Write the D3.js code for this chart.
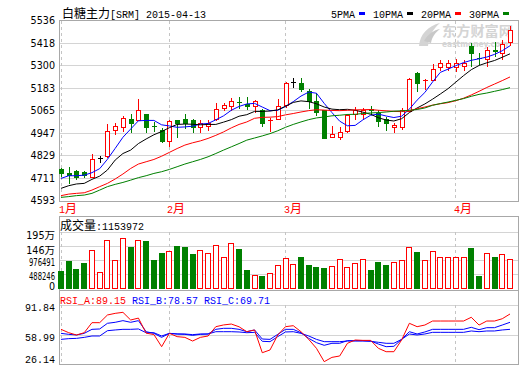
<!DOCTYPE html>
<html><head><meta charset="utf-8">
<script src="https://cdn.jsdelivr.net/npm/d3@7"></script>
<style>html,body{margin:0;padding:0;background:#fff;overflow:hidden}</style>
</head><body><svg id="c" width="520" height="365"></svg>
<script>
// ---------- data ----------
const title = "白糖主力[SRM] 2015-04-13";
const monthLabels = ["1月", "2月", "3月", "4月"];
const monthStartIndex = [0, 14, 29, 51];
const priceTicks = [4593, 4711, 4829, 4947, 5065, 5183, 5300, 5418, 5536];
const volTicks = [0, 488246, 976491, 1464737, 1952982];
const volTickLabels = ["0", "488246", "976491", "146万", "195万"];
const rsiTicks = [26.14, 58.99, 91.84];
const rsiTickLabels = ["26.14", "58.99", "91.84"];
const maNames = ["5PMA", "10PMA", "20PMA", "30PMA"];
const volumeTitle = "成交量:1153972";
const rsiNames = ["RSI_A:89.15", "RSI_B:78.57", "RSI_C:69.71"];

const opens = [4758,4741,4749,4742,4720,4819,4827,4966,4977,5019,
  5015,5050,4985,4963,4907,5015,5020,5015,4980,4984,
  5020,5081,5090,5112,5098,5088,5067,5015,5024,5093,
  5215,5210,5168,5114,5071,4925,4928,4958,5046,5045,
  5072,5055,5019,4977,4977,5064,5262,5225,5227,5293,
  5295,5293,5298,5405,5342,5337,5380,5368,5425];
const highs = [4764,4772,4754,4749,4836,4827,4993,5001,5036,5045,
  5124,5050,5006,4975,5015,5015,5050,5020,5015,5015,
  5105,5105,5133,5137,5137,5119,5076,5027,5128,5215,
  5237,5237,5180,5157,5071,4984,4980,5050,5084,5081,
  5088,5071,5032,5001,5081,5237,5267,5228,5310,5331,
  5329,5336,5331,5420,5366,5397,5423,5434,5508];
const lows = [4722,4685,4706,4716,4718,4798,4824,4942,4960,4954,
  5015,4954,4958,4902,4880,4925,4975,4954,4951,4963,
  5015,5067,5067,5081,5076,5058,4984,4960,5020,5085,
  5189,5168,5081,5041,4920,4925,4915,4954,5024,5029,
  5045,4984,4963,4954,4971,5064,5168,5180,5223,5276,
  5279,5272,5276,5300,5310,5296,5348,5336,5406];
const closes = [4738,4727,4720,4727,4810,4819,4958,4984,5029,5001,
  5071,4980,4983,4907,5010,5001,4998,4977,5001,5001,
  5076,5097,5114,5110,5090,5114,5001,5017,5091,5210,
  5215,5180,5114,5058,4920,4945,4951,5041,5071,5071,
  5070,5012,5003,4992,5071,5232,5211,5227,5284,5314,
  5314,5316,5314,5364,5340,5381,5376,5414,5487];
const volumes = [616700,959400,685300,890800,1336300,572200,1678900,983300,1737100,1439000,
  1678900,1644600,993600,1233500,1302000,1473300,1439000,1199200,1336300,1233500,
  1507600,1096400,1576100,1380800,651000,479700,455700,548200,822300,1062200,
  846300,1096400,822300,753800,719500,788000,1027900,753800,890800,1027900,
  651000,925100,822300,925100,993600,1439000,1267700,993600,1302000,1096400,
  1096400,1096400,1096400,1404800,455700,1233500,1096400,1199200,1027900];
const ma5 = [4711,4725,4725,4728,4741,4762,4811,4868,4926,4969,
  5012,5014,5014,4991,4985,4978,4980,4984,4995,4998,
  5017,5038,5067,5087,5100,5103,5084,5065,5067,5087,
  5112,5141,5162,5156,5103,5055,5010,4986,4988,5017,
  5041,5047,5037,5029,5036,5073,5120,5160,5215,5265,
  5282,5300,5316,5328,5336,5345,5359,5378,5404];
const ma10 = [4659,4673,4682,4685,4706,4723,4755,4807,4841,4859,
  4893,4917,4939,4956,4976,4993,4995,4994,4991,4993,
  4993,5005,5018,5036,5044,5061,5061,5063,5069,5088,
  5108,5116,5112,5101,5084,5073,5070,5072,5067,5057,
  5046,5028,5016,5011,5023,5055,5079,5100,5125,5152,
  5180,5214,5248,5279,5301,5315,5327,5344,5362];
const ma20 = [4621,4629,4633,4636,4650,4668,4685,4708,4734,4763,
  4786,4798,4810,4827,4847,4867,4885,4897,4907,4920,
  4936,4954,4975,4993,5006,5025,5030,5031,5034,5043,
  5050,5058,5065,5070,5068,5066,5065,5067,5069,5070,
  5071,5067,5064,5061,5060,5065,5075,5084,5094,5101,
  5107,5117,5130,5147,5166,5186,5204,5222,5241];
const ma30 = [4612,4616,4621,4624,4633,4650,4668,4680,4690,4702,
  4715,4725,4737,4746,4758,4772,4786,4798,4810,4824,
  4841,4859,4876,4893,4911,4922,4933,4945,4960,4978,
  4993,5006,5018,5027,5032,5038,5041,5045,5046,5050,
  5053,5055,5058,5062,5064,5067,5071,5079,5093,5102,
  5110,5119,5128,5140,5150,5157,5166,5175,5185];
const rsiA = [65.2,61.5,59,61.5,72.5,72.5,80.9,82.7,83.8,75.4,
  77.5,61,59.5,46.2,60.8,57.2,56.4,52.4,56.4,57.9,
  68.1,70,71,68,62.6,64.5,39.6,42.6,59,68.1,
  69.2,62.6,54.2,44.4,29.8,34.5,36,49.9,53.5,53.1,
  53.1,44.4,40.7,40.7,53.5,71.8,68.1,69.9,74.3,74.3,
  74.3,74.3,74.3,78.4,69.9,74.3,74.3,76.8,82];
const rsiB = [60.8,59.7,59,60.8,65.2,65.6,71.8,72.9,74.7,72.9,
  74.7,62.6,60.8,56.4,60.8,60.1,59.7,58.6,59.7,60.1,
  65.2,66.3,66.3,65.2,62.6,64.5,54.6,54.2,59.7,65.2,
  65.2,61.5,55.3,50.6,47.7,49.9,49.9,52.8,52.8,52.8,
  52.4,49.1,46.2,46.6,54.2,62.6,60.1,62.3,65.2,65.2,
  65.2,65.2,65.2,67.4,64.8,67,67,69.9,72.9];
const rsiC = [54.2,55,55.3,56.4,57.9,57.9,63.7,64.5,65.2,65.2,
  65.6,61.5,61.5,57.9,60.8,60.1,60.1,59.4,60.1,60.1,
  62.6,62.6,62.6,62.3,61.5,61.9,52.1,51.7,57.2,62.3,
  62.6,60.8,57.9,54.2,51.7,51.7,51.7,52.4,52.4,52.4,
  52.1,51,49.9,49.9,54.2,60.1,59,60.1,61.9,61.9,
  61.9,61.9,61.9,63.4,62.6,63.4,63.4,64.5,65.2];

// ---------- styles ----------
const RED = "#ff0000", GREEN = "#008000", BLUE = "#0000ff", BLACK = "#000000";
const maColors = [BLUE, BLACK, RED, GREEN];
const rsiColors = [RED, BLUE, BLUE];
const BORDER = "#a8a8a8", GRID = "#d4d4d4", DASH = "#c4c4c4";
const MONO = "'Liberation Mono', monospace";
const CJK = "'Noto Sans CJK SC', sans-serif";
const SANS = "'DejaVu Sans', sans-serif";

const svg = d3.select("#c");
const L = 59, R = 519;
const crisp = v => Math.floor(v) + 0.5;

const xs = d3.scaleLinear().domain([0, closes.length - 1]).range([61, 510]);
const yP = d3.scaleLinear().domain([4593, 5536]).range([201, 20.5]);
const yV = d3.scaleLinear().domain([0, 1952982]).range([289, 232]);
const yR = d3.scaleLinear().domain([26.14, 91.84]).range([365, 305]);

function mixed(g, str, x, y, fill, anchor) {
  const t = g.append("text").attr("x", x).attr("y", y).attr("fill", fill)
    .style("white-space", "pre").attr("text-anchor", anchor || "start");
  const runs = str.match(/[\u3000-\u9fff\uff00-\uffef]+|[^\u3000-\u9fff\uff00-\uffef]+/g);
  runs.forEach(r => {
    const isC = /[\u3000-\u9fff\uff00-\uffef]/.test(r);
    t.append("tspan").text(r).attr("font-family", isC ? CJK : MONO)
      .attr("font-size", isC ? 12 : 10);
  });
  return t;
}

// ---------- watermark ----------
const wm = svg.append("g").attr("fill", "#d4d4d4");
wm.append("path").attr("d", "M419,46 C420,34 428,26 440,23 C433,29 429,36 428,46 Z");
wm.append("path").attr("d", "M424,41 C428,34 434,30 440,29 C435,33 432,37 431,43 Z").attr("fill", "#c8c8c8");
wm.append("text").attr("x", 442).attr("y", 36).attr("font-family", CJK).attr("font-size", 13.5)
  .attr("font-weight", "bold").attr("textLength", 71).attr("lengthAdjust", "spacingAndGlyphs").text("东方财富网");
wm.append("text").attr("x", 442).attr("y", 46.5).attr("font-family", SANS).attr("font-size", 8)
  .attr("font-weight", "bold").attr("textLength", 66).attr("lengthAdjust", "spacingAndGlyphs").text("eastmoney.com");

// ---------- header ----------
mixed(svg, title, 62, 18, BLACK);
let lx = 331;
maNames.forEach((n, k) => {
  svg.append("text").attr("x", lx).attr("y", 18).attr("font-family", MONO).attr("font-size", 10)
    .attr("fill", BLACK).text(n);
  const mx = lx + n.length * 6 + 4;
  svg.append("rect").attr("x", mx).attr("y", 12).attr("width", 6).attr("height", 3).attr("fill", maColors[k]);
  lx = mx + 14;
});

// ---------- grids & borders ----------
const grid = svg.append("g").attr("shape-rendering", "crispEdges");
priceTicks.forEach(t => {
  grid.append("line").attr("x1", L).attr("x2", R).attr("y1", crisp(yP(t))).attr("y2", crisp(yP(t)))
    .attr("stroke", GRID);
});
volTicks.slice(1).forEach(t => {
  grid.append("line").attr("x1", L).attr("x2", R).attr("y1", crisp(yV(t))).attr("y2", crisp(yV(t)))
    .attr("stroke", GRID);
});
[58.99, 91.84].forEach(t => {
  grid.append("line").attr("x1", L).attr("x2", R).attr("y1", crisp(yR(t))).attr("y2", crisp(yR(t)))
    .attr("stroke", GRID);
});
monthStartIndex.forEach(i => {
  const x = crisp(xs(i));
  [[21, 201], [232, 289], [305, 364]].forEach(([a, b]) => {
    grid.append("line").attr("x1", x).attr("x2", x).attr("y1", a).attr("y2", b)
      .attr("stroke", DASH).attr("stroke-dasharray", "3,3");
  });
});
// borders
[[20.5, 201.5], [216.5, 290.5], [290.5, 364.5]].forEach(([a, b]) => {
  grid.append("rect").attr("x", L + 0.5).attr("y", a).attr("width", R - L - 1).attr("height", b - a)
    .attr("fill", "none").attr("stroke", BORDER);
});

// ---------- axis labels ----------
const ax = svg.append("g").attr("fill", BLACK);
priceTicks.forEach(t => {
  ax.append("text").attr("x", 55).attr("y", yP(t)).attr("dy", "0.36em").attr("text-anchor", "end")
    .attr("font-family", SANS).attr("font-size", 9.6).text(String(t));
});
volTicks.forEach((t, k) => {
  const lab = volTickLabels[k];
  const y = t === 0 ? yV(t) - 2 : (k === volTicks.length - 1 ? yV(t) + 1 : yV(t) + 2);
  if (/万/.test(lab)) {
    const tx = ax.append("text").attr("x", 55).attr("y", y).attr("dy", "0.36em").attr("text-anchor", "end");
    tx.append("tspan").attr("font-family", SANS).attr("font-size", 9.6).text(lab.replace("万", ""));
    tx.append("tspan").attr("font-family", CJK).attr("font-size", 10.5).text("万");
  } else {
    const tx = ax.append("text").attr("x", 55).attr("y", y).attr("dy", "0.36em").attr("text-anchor", "end")
      .attr("font-family", SANS).attr("font-size", 9.6).text(lab);
    if (lab.length > 4) tx.attr("textLength", 26).attr("lengthAdjust", "spacingAndGlyphs");
  }
});
rsiTicks.forEach((t, k) => {
  const y = k === 0 ? yR(t) - 5.5 : yR(t) + 2;
  ax.append("text").attr("x", 55).attr("y", y).attr("dy", "0.36em").attr("text-anchor", "end")
    .attr("font-family", MONO).attr("font-size", 10).text(rsiTickLabels[k]);
});
monthStartIndex.forEach((i, k) => {
  mixed(svg, monthLabels[k], Math.round(xs(i)) - 2, 212.5, RED);
});

// ---------- candles ----------
const gC = svg.append("g").attr("shape-rendering", "crispEdges");
closes.forEach((c, i) => {
  const o = opens[i], h = highs[i], l = lows[i];
  const cx = Math.round(xs(i));
  const col = c > o ? RED : (c < o ? GREEN : BLACK);
  const top = Math.round(yP(Math.max(o, c))), bot = Math.round(yP(Math.min(o, c)));
  gC.append("line").attr("x1", cx + 0.5).attr("x2", cx + 0.5)
    .attr("y1", Math.round(yP(h))).attr("y2", Math.round(yP(l)) + 1).attr("stroke", col);
  if (bot - top < 1) {
    gC.append("line").attr("x1", cx - 2).attr("x2", cx + 3).attr("y1", top + 0.5).attr("y2", top + 0.5)
      .attr("stroke", col);
  } else if (c > o) {
    gC.append("rect").attr("x", cx - 1.5).attr("y", top + 0.5).attr("width", 4).attr("height", bot - top)
      .attr("fill", "#fff").attr("stroke", col);
  } else {
    gC.append("rect").attr("x", cx - 2).attr("y", top).attr("width", 5).attr("height", bot - top + 1)
      .attr("fill", col);
  }
});

// ---------- MA lines ----------
const gL = svg.append("g").attr("fill", "none");
[ma5, ma10, ma20, ma30].forEach((arr, k) => {
  gL.append("path").attr("d", d3.line().x((d, i) => xs(i)).y(d => yP(d))(arr))
    .attr("stroke", maColors[k]).attr("stroke-width", 1);
});

// ---------- volume ----------
mixed(svg, volumeTitle, 60, 230, BLACK);
const gV = svg.append("g").attr("shape-rendering", "crispEdges");
volumes.forEach((v, i) => {
  const cx = Math.round(xs(i));
  const top = Math.round(yV(v));
  const up = closes[i] >= opens[i];
  if (up) {
    gV.append("rect").attr("x", cx - 2.5).attr("y", top + 0.5).attr("width", 5).attr("height", 288 - top)
      .attr("fill", "#fff").attr("stroke", RED);
  } else {
    gV.append("rect").attr("x", cx - 3).attr("y", top).attr("width", 6).attr("height", 289 - top)
      .attr("fill", GREEN);
  }
});

// ---------- RSI ----------
const rt = svg.append("text").attr("x", 60).attr("y", 304).attr("font-family", MONO).attr("font-size", 10)
  .style("white-space", "pre");
rsiNames.forEach((n, k) => {
  rt.append("tspan").attr("fill", rsiColors[k]).text((k ? " " : "") + n);
});
const gR = svg.append("g").attr("fill", "none");
[rsiC, rsiB, rsiA].forEach((arr, k) => {
  gR.append("path").attr("d", d3.line().x((d, i) => xs(i)).y(d => yR(d))(arr))
    .attr("stroke", [BLUE, BLUE, RED][k]).attr("stroke-width", 1);
});
</script>
</body></html>
